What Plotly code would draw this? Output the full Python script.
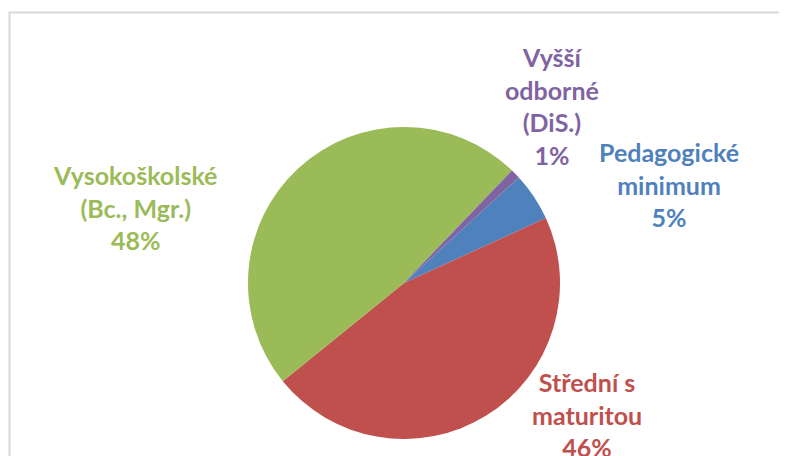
import plotly.graph_objects as go

# Data
categories = ["Pedagogické minimum", "Střední s maturitou", "Vysokoškolské (Bc., Mgr.)", "Vyšší odborné (DiS.)"]
display_labels = ["Pedagogické<br>minimum", "Střední s<br>maturitou", "Vysokoškolské<br>(Bc., Mgr.)", "Vyšší<br>odborné<br>(DiS.)"]
values = [5, 46, 48, 1]

colors = ["#4f81bd", "#c0504d", "#9bbb59", "#8064a2"]
W, H = 787, 456
OFF = 8  # page body margin

def px_x(x):
    return (x - OFF) / W

def px_y(y):
    return 1 - (y - OFF) / H

fig = go.Figure()
fig.add_trace(go.Pie(
    labels=categories, values=values, sort=False, direction="clockwise",
    rotation=47.4, textinfo="none", hoverinfo="label+percent",
    marker=dict(colors=colors, line=dict(width=0)),
    domain=dict(x=[px_x(404 - 156), px_x(404 + 156)], y=[px_y(439), px_y(127)]),
    showlegend=False,
))

total = sum(values)
# label anchor positions (pixels, center of text block)
label_pos = [(669, 185), (587, 414), (135, 207), (552, 106)]
for lab, v, c, (px, py) in zip(display_labels, values, colors, label_pos):
    fig.add_annotation(
        text=f"{lab}<br>{round(v / total * 100)}%",
        x=px_x(px), y=px_y(py), xref="paper", yref="paper",
        xanchor="center", yanchor="middle", showarrow=False, align="center",
        font=dict(family="Lato", size=25, color=c, weight="bold"),
    )

fig.add_shape(type="rect", xref="paper", yref="paper",
              x0=px_x(9.5), x1=1.05, y0=-0.05, y1=px_y(12.5),
              line=dict(color="#d9d9d9", width=2), fillcolor="rgba(0,0,0,0)", layer="below")

fig.update_layout(width=W, height=H, margin=dict(l=0, r=0, t=0, b=0),
                  paper_bgcolor="white", plot_bgcolor="white")
fig.write_html("out.html")
